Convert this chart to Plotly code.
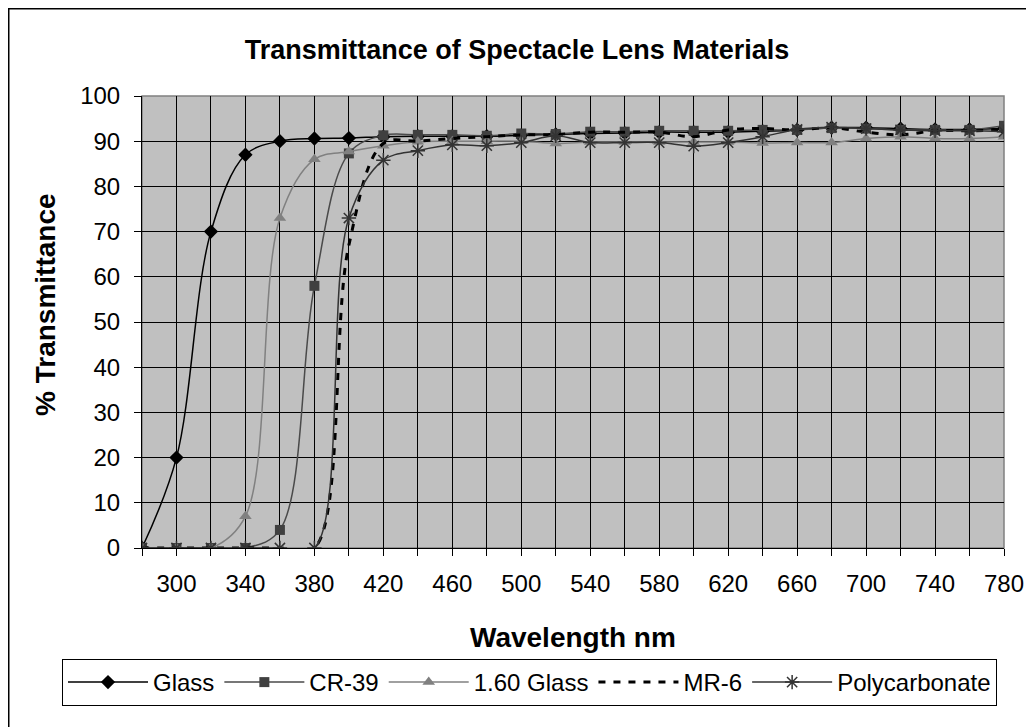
import plotly.graph_objects as go

wavelength = [280, 300, 320, 340, 360, 380, 400, 420, 440, 460, 480, 500, 520,
              540, 560, 580, 600, 620, 640, 660, 680, 700, 720, 740, 760, 780]

glass = [0, 20, 70, 87, 90, 90.6, 90.7, 91, 91.1, 91.1, 91.1, 91.3, 91.5,
         91.7, 91.8, 92, 92, 92, 92.2, 92.5, 93, 93, 92.8, 92.6, 92.6, 92.8]
cr39 = [0, 0, 0, 0, 4, 58, 87.3, 91.3, 91.4, 91.4, 91.2, 91.7, 91.6,
        92.1, 92.1, 92.3, 92.3, 92.3, 92.5, 92.5, 92.9, 92.8, 92.5, 92.5, 92.5, 93.4]
glass160 = [0, 0, 0, 7, 73, 86, 87.7, 89, 89.9, 90, 90, 90, 89.5,
            89.8, 89.8, 89.8, 89.8, 89.8, 89.6, 89.7, 89.7, 90.6, 91, 90.6, 90.6, 91]
mr6 = [0, 0, 0, 0, 0, 0, 67, 89.5, 90, 90.6, 91, 91.4, 91.5,
       92, 92, 92, 91, 92.5, 92.8, 92.5, 93, 92, 91.4, 92.3, 92.3, 92.5]
polycarbonate = [0, 0, 0, 0, 0, 0, 73, 85.8, 87.9, 89.2, 89, 89.7, 91.2,
                 89.7, 89.7, 89.7, 88.9, 89.7, 91, 92.6, 93.1, 92.8, 92.5, 92.3, 92.3, 92.1]

x_tick_vals = wavelength
x_tick_text = [str(w) if (w - 300) % 40 == 0 else "" for w in wavelength]
y_tick_vals = [0, 10, 20, 30, 40, 50, 60, 70, 80, 90, 100]

FONT = "Liberation Sans, Arial, sans-serif"

fig = go.Figure()
fig.add_trace(go.Scatter(x=wavelength, y=glass, name="Glass", mode="lines+markers",
                         line=dict(color="#000000", width=1.5, shape="spline", smoothing=1),
                         marker=dict(symbol="diamond", size=11, color="#000000")))
fig.add_trace(go.Scatter(x=wavelength, y=cr39, name="CR-39", mode="lines+markers",
                         line=dict(color="#4a4a4a", width=1.5, shape="spline", smoothing=1),
                         marker=dict(symbol="square", size=10, color="#404040")))
fig.add_trace(go.Scatter(x=wavelength, y=glass160, name="1.60 Glass", mode="lines+markers",
                         line=dict(color="#808080", width=1.5, shape="spline", smoothing=1),
                         marker=dict(symbol="triangle-up", size=11, color="#808080")))
fig.add_trace(go.Scatter(x=wavelength, y=mr6, name="MR-6", mode="lines",
                         line=dict(color="#000000", width=3, dash="7px,8px", shape="spline", smoothing=1)))
fig.add_trace(go.Scatter(x=wavelength, y=polycarbonate, name="Polycarbonate", mode="lines+markers",
                         line=dict(color="#333333", width=1.5, shape="spline", smoothing=1),
                         marker=dict(symbol="asterisk-open", size=12,
                                     line=dict(color="#333333", width=1.5))))

# page has an 8px body margin; figure pixel coords = screen coords - 8
OFF = 8
W, H = 1026, 719
L, T = 142 - OFF, 96 - OFF
R = W - (1004 - OFF)
B = H - (548 - OFF)
pw, ph = W - L - R, H - T - B

def px(xs):
    return (xs - OFF - L) / pw

def py(ys):
    return (H - B - (ys - OFF)) / ph

fig.update_layout(
    width=W, height=H,
    margin=dict(l=L, r=R, t=T, b=B, autoexpand=False),
    paper_bgcolor="white",
    plot_bgcolor="#c0c0c0",
    font=dict(family=FONT, size=24, color="black"),
    title=dict(text="<b>Transmittance of Spectacle Lens Materials</b>",
               font=dict(family=FONT, size=27, color="black"),
               x=(517 - OFF) / W, xref="container", xanchor="center",
               y=1 - (50 - OFF) / H, yref="container", yanchor="middle"),
    showlegend=True,
    legend=dict(orientation="h", x=px(62), xanchor="left", y=py(659), yanchor="top",
                bordercolor="black", borderwidth=1, bgcolor="white",
                font=dict(family=FONT, size=24), itemwidth=80,
                traceorder="normal"),
    xaxis=dict(range=[280, 780], tickmode="array", tickvals=x_tick_vals, ticktext=x_tick_text,
               showgrid=True, gridcolor="black", gridwidth=1, zeroline=False,
               showline=True, linecolor="black", linewidth=1,
               ticks="outside", ticklen=7, tickcolor="black", tickwidth=1,
               tickfont=dict(family=FONT, size=24), ticklabelstandoff=7),
    yaxis=dict(range=[0, 100], tickmode="array", tickvals=y_tick_vals,
               showgrid=True, gridcolor="black", gridwidth=1, zeroline=False,
               showline=True, linecolor="black", linewidth=1,
               ticks="outside", ticklen=7, tickcolor="black", tickwidth=1,
               tickfont=dict(family=FONT, size=24), ticklabelstandoff=9),
    shapes=[
        dict(type="rect", xref="paper", yref="paper", x0=0, x1=1, y0=0, y1=1,
             line=dict(color="#808080", width=1.5), layer="below"),
        dict(type="rect", xref="paper", yref="paper",
             x0=px(8.5), x1=px(1045), y0=py(8.5), y1=py(740),
             line=dict(color="black", width=2)),
    ],
    annotations=[
        dict(text="<b>% Transmittance</b>", xref="paper", yref="paper",
             x=px(45), y=py(305), textangle=-90, showarrow=False,
             xanchor="center", yanchor="middle",
             font=dict(family=FONT, size=28, color="black")),
        dict(text="<b>Wavelength nm</b>", xref="paper", yref="paper",
             x=px(573), y=py(637), showarrow=False,
             xanchor="center", yanchor="middle",
             font=dict(family=FONT, size=28, color="black")),
    ],
)

fig.write_html("out.html")
